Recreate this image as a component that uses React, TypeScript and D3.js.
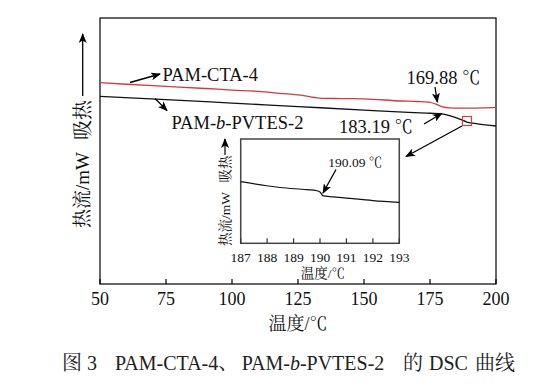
import React from "react";
import * as d3 from "d3";

// ---- data ----
const redTemps = [50, 60, 75, 90, 100, 110, 118, 126, 133, 141, 150, 164, 170, 175, 177, 179.5, 182.5, 186, 190, 195, 200];
const redFlow = [7.57, 7.51, 7.43, 7.35, 7.29, 7.24, 7.17, 7.1, 6.99, 6.97, 6.96, 6.88, 6.86, 6.83, 6.77, 6.67, 6.62, 6.61, 6.61, 6.62, 6.64];
const blackTemps = [50, 75, 100, 125, 150, 165, 175, 180, 183, 186, 189, 193, 200];
const blackFlow = [7.05, 6.93, 6.8, 6.67, 6.54, 6.46, 6.42, 6.39, 6.31, 6.21, 6.09, 6.02, 5.94];
const insetTemps = [187, 187.98, 188.5, 189.5, 189.88, 190.0, 190.12, 190.5, 191, 192, 193];
const insetFlow = [5.91, 5.52, 5.35, 5.14, 5.04, 4.92, 4.54, 4.46, 4.34, 4.1, 3.93];
const mainTicks = [50, 75, 100, 125, 150, 175, 200];
const insetTicks = [187, 188, 189, 190, 191, 192, 193];
const squareTemp = 189;

const SERIF = "'Liberation Serif', 'Times New Roman', 'Noto Serif CJK SC', 'Noto Sans CJK SC', serif";

export default function App() {
  const x = d3.scaleLinear().domain([50, 200]).range([100, 496]);
  const y = d3.scaleLinear().domain([0, 10]).range([284, 18]);
  const xi = d3.scaleLinear().domain([187, 193]).range([240.7, 399.3]);
  const yi = d3.scaleLinear().domain([0, 10]).range([243.3, 139]);

  const lineOf = (ts: number[], vs: number[], sx: any, sy: any) =>
    d3
      .line<[number, number]>()
      .x((d) => sx(d[0]))
      .y((d) => sy(d[1]))
      .curve(d3.curveMonotoneX)(ts.map((t, i) => [t, vs[i]] as [number, number])) || "";

  const redPath = lineOf(redTemps, redFlow, x, y);
  const blackPath = lineOf(blackTemps, blackFlow, x, y);
  const insetPath = lineOf(insetTemps, insetFlow, xi, yi);

  const sqIdx = blackTemps.indexOf(squareTemp);
  const sqX = x(squareTemp);
  const sqY = y(blackFlow[sqIdx]) - 1;

  const Arrow = ({ x1, y1, x2, y2 }: { x1: number; y1: number; x2: number; y2: number }) => (
    <line x1={x1} y1={y1} x2={x2} y2={y2} stroke="#000" strokeWidth={1.3} markerEnd="url(#ah)" />
  );

  return (
    <svg width={553} height={383} style={{ position: "absolute", left: 0, top: 0, background: "#fff" }} fontFamily={SERIF}>
      <defs>
        <marker id="ah" viewBox="0 0 10 8" refX={9} refY={4} markerWidth={10} markerHeight={8} markerUnits="userSpaceOnUse" orient="auto">
          <path d="M0,0 L10,4 L0,8 L2.5,4 Z" fill="#000" />
        </marker>
      </defs>
      <rect x={0} y={0} width={553} height={383} fill="#fff" />

      {/* main frame */}
      <rect x={100} y={18} width={396} height={266} fill="none" stroke="#000" strokeWidth={1.2} />
      {mainTicks.map((t) => (
        <g key={t}>
          <line x1={x(t)} x2={x(t)} y1={284} y2={279} stroke="#000" strokeWidth={1.2} />
          <text x={x(t)} y={305} fontSize={18} textAnchor="middle" fill="#111">
            {t}
          </text>
        </g>
      ))}
      <text x={298} y={330} fontSize={18} textAnchor="middle" fill="#111">
        温度/℃
      </text>

      {/* main y label */}
      <line x1={82.7} y1={96} x2={82.7} y2={34} stroke="#000" strokeWidth={1.3} markerEnd="url(#ah)" />
      <text transform="translate(82.7,120) rotate(-90)" fontSize={20} textAnchor="middle" dominantBaseline="central" fill="#111">
        吸热
      </text>
      <text transform="translate(82.7,190) rotate(-90)" fontSize={19} textAnchor="middle" dominantBaseline="central" fill="#111">
        热流/mW
      </text>

      {/* curves */}
      <path d={redPath} fill="none" stroke="#d23a44" strokeWidth={1.3} />
      <path d={blackPath} fill="none" stroke="#111" strokeWidth={1.3} />

      {/* square marker */}
      <rect x={sqX - 4.5} y={sqY - 4.5} width={9} height={9} fill="none" stroke="#c8424a" strokeWidth={1.2} />

      {/* annotations */}
      <Arrow x1={130} y1={82.5} x2={160} y2={74} />
      <text x={162.5} y={81} fontSize={18.5} fill="#111">PAM-CTA-4</text>

      <Arrow x1={155} y1={98.5} x2={167} y2={110.5} />
      <text x={171.5} y={129.3} fontSize={18.5} fill="#111">
        PAM-<tspan fontStyle="italic">b</tspan>-PVTES-2
      </text>

      <text x={406.5} y={84} fontSize={18.5} fill="#111">169.88 ℃</text>
      <Arrow x1={435} y1={87} x2={437.3} y2={102} />

      <text x={339} y={132.7} fontSize={18.5} fill="#111">183.19 ℃</text>
      <Arrow x1={424} y1={124} x2={441.7} y2={113.5} />

      <Arrow x1={sqX - 5} y1={sqY + 5} x2={406} y2={156.5} />

      {/* inset */}
      <rect x={240.7} y={139} width={158.6} height={104.3} fill="#fff" stroke="#444" strokeWidth={1.5} />
      {insetTicks.map((t) => (
        <g key={t}>
          <line x1={xi(t)} x2={xi(t)} y1={243.3} y2={238.3} stroke="#333" strokeWidth={1.2} />
          <text x={xi(t)} y={261.7} fontSize={13.5} textAnchor="middle" fill="#111">
            {t}
          </text>
        </g>
      ))}
      <text x={323} y={278} fontSize={13.5} textAnchor="middle" fill="#111">
        温度/℃
      </text>
      <path d={insetPath} fill="none" stroke="#111" strokeWidth={1.2} />
      <text x={328.3} y={166.7} fontSize={13.5} fill="#111">190.09 ℃</text>
      <Arrow x1={336} y1={169.5} x2={323} y2={193} />

      <line x1={225} y1={155} x2={225} y2={139} stroke="#000" strokeWidth={1.2} markerEnd="url(#ah)" />
      <text transform="translate(225,169) rotate(-90)" fontSize={13.5} textAnchor="middle" dominantBaseline="central" fill="#111">
        吸热
      </text>
      <text transform="translate(225,219) rotate(-90)" fontSize={13.5} textAnchor="middle" dominantBaseline="central" fill="#111">
        热流/mW
      </text>

      {/* caption */}
      <g fontSize={20} fill="#222">
        <text x={62} y={370}>图 3</text>
        <text x={115} y={370}>PAM-CTA-4、</text>
        <text x={241.7} y={370}>
          PAM-<tspan fontStyle="italic">b</tspan>-PVTES-2
        </text>
        <text x={403} y={370}>的</text>
        <text x={429} y={370}>DSC</text>
        <text x={475} y={370}>曲线</text>
      </g>
    </svg>
  );
}
